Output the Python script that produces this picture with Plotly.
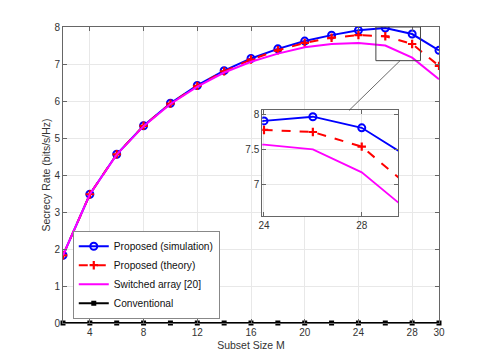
import plotly.graph_objects as go

# ---- data ----
M = [2, 4, 6, 8, 10, 12, 14, 16, 18, 20, 22, 24, 26, 28, 30]
sim = [1.83, 3.48, 4.56, 5.33, 5.94, 6.42, 6.82, 7.15, 7.41, 7.62, 7.78, 7.91, 7.97, 7.81, 7.37]
theory = [1.83, 3.48, 4.56, 5.33, 5.93, 6.41, 6.80, 7.12, 7.37, 7.57, 7.71, 7.78, 7.75, 7.54, 6.95]
switched = [1.83, 3.48, 4.55, 5.32, 5.92, 6.39, 6.77, 7.06, 7.28, 7.45, 7.54, 7.57, 7.50, 7.17, 6.59]
conventional = [0] * len(M)

x_ticks = [4, 8, 12, 16, 20, 24, 28, 30]
y_ticks = [0, 1, 2, 3, 4, 5, 6, 7, 8]
inset_x_ticks = [24, 28]
inset_y_ticks = [7, 7.5, 8]

names = ["Proposed (simulation)", "Proposed (theory)", "Switched array [20]", "Conventional"]

FONT = "Liberation Sans, Arial, sans-serif"
AX = "#666666"
GRID = "#e8e8e8"

fig = go.Figure()

# main traces
fig.add_trace(go.Scatter(x=M, y=sim, name=names[0], mode="lines+markers",
                         line=dict(color="#0000ff", width=2),
                         marker=dict(symbol="circle-open", size=7, color="#0000ff", line=dict(width=2))))
fig.add_trace(go.Scatter(x=M, y=theory, name=names[1], mode="lines+markers",
                         line=dict(color="#ff0000", width=2, dash="dash"),
                         marker=dict(symbol="cross-thin-open", size=6, color="#ff0000", line=dict(width=2.2, color="#ff0000"))))
fig.add_trace(go.Scatter(x=M, y=switched, name=names[2], mode="lines",
                         line=dict(color="#ff00ff", width=2)))
fig.add_trace(go.Scatter(x=M, y=conventional, name=names[3], mode="lines+markers",
                         line=dict(color="#000000", width=2),
                         marker=dict(symbol="square", size=5, color="#000000"),
                         cliponaxis=False))

# inset traces
fig.add_trace(go.Scatter(x=M, y=sim, xaxis="x2", yaxis="y2", mode="lines+markers", showlegend=False,
                         line=dict(color="#0000ff", width=1.8),
                         marker=dict(symbol="circle-open", size=7, color="#0000ff", line=dict(width=2))))
fig.add_trace(go.Scatter(x=M, y=theory, xaxis="x2", yaxis="y2", mode="lines+markers", showlegend=False,
                         line=dict(color="#ff0000", width=2, dash="dash"),
                         marker=dict(symbol="cross-thin-open", size=6, color="#ff0000", line=dict(width=2.2, color="#ff0000"))))
fig.add_trace(go.Scatter(x=M, y=switched, xaxis="x2", yaxis="y2", mode="lines", showlegend=False,
                         line=dict(color="#ff00ff", width=1.8)))

inset_dom_x = [0.530, 0.892]
inset_dom_y = [0.361, 0.718]
main_xr = [2, 30]
main_yr = [0, 8]

# zoom box and connector
box_x = [25.3, 28.62]
box_y = [7.09, 8.0]
fig.add_shape(type="rect", xref="x", yref="y", x0=box_x[0], x1=box_x[1], y0=box_y[0], y1=box_y[1],
              line=dict(color="#444444", width=1))
fig.add_shape(type="line", xref="x", yref="y",
              x0=27.1, y0=box_y[0],
              x1=main_xr[0] + (main_xr[1] - main_xr[0]) * 0.7606, y1=main_yr[1] * inset_dom_y[1],
              line=dict(color="#444444", width=0.8))

common = dict(showline=True, mirror="ticks", linecolor=AX, linewidth=1, ticks="inside",
              ticklen=4, tickcolor=AX, gridcolor=GRID, gridwidth=1, zeroline=False,
              automargin=False,
              tickfont=dict(family=FONT, size=10, color="#333333"))

# page body has an 8px margin, so the figure is shrunk and margins offset by 8px
fig.update_layout(
    width=477, height=355,
    margin=dict(l=55, r=46, t=19, b=40, autoexpand=False),
    paper_bgcolor="white", plot_bgcolor="white",
    font=dict(family=FONT, size=10, color="#333333"),
    xaxis=dict(range=main_xr, tickvals=x_ticks, domain=[0, 1],
               title=dict(text="Subset Size M", font=dict(size=10.5), standoff=4), **common),
    yaxis=dict(range=main_yr, tickvals=y_ticks, domain=[0, 1],
               title=dict(text="Secrecy Rate (bits/s/Hz)", font=dict(size=10.5), standoff=1), **common),
    xaxis2=dict(range=[23.93, 29.5], tickvals=inset_x_ticks, domain=inset_dom_x, anchor="y2", **common),
    yaxis2=dict(range=[6.54, 8.06], tickvals=inset_y_ticks, domain=inset_dom_y, anchor="x2", **common),
    legend=dict(x=0.026, y=0.0145, xanchor="left", yanchor="bottom",
                bgcolor="white", bordercolor="#888888", borderwidth=1,
                font=dict(family=FONT, size=10.2, color="#111111"),
                tracegroupgap=0, itemwidth=30),
    showlegend=True,
)

fig.write_html("out.html")
